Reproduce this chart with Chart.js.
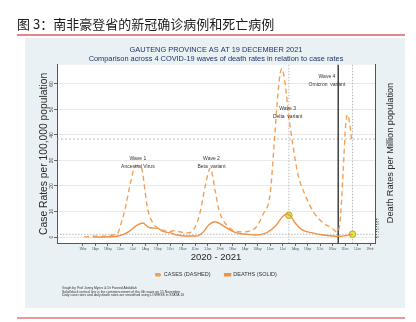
<!DOCTYPE html>
<html>
<head>
<meta charset="utf-8">
<script src="https://cdn.jsdelivr.net/npm/chart.js@4.4.1/dist/chart.umd.min.js"></script>
<style>
  html, body { margin: 0; padding: 0; background: #fff; }
  canvas { display: block; }
</style>
</head>
<body>
<canvas id="chart" width="416" height="322"></canvas>
<script>
// x values are months counted from 1 Mar 2020 (0) to 1 Feb 2022 (23)
const monthLabels = ['1Mar', '1Apr', '1May', '1Jun', '1Jul', '1Aug', '1Sep', '1Oct', '1Nov', '1Dec', '1Jan', '1Feb',
                     '1Mar', '1Apr', '1May', '1Jun', '1Jul', '1Aug', '1Sep', '1Oct', '1Nov', '1Dec', '1Jan', '1Feb'];
const caseTicks = [0, 10, 20, 30, 40, 50, 60];
const deathTicks = [0, 1, 2, 3, 4, 5, 6, 7];

// cases per 100,000 (dashed)
const caseMonths = [0.1, 0.5, 1.0, 1.5, 2.0, 2.5, 2.8, 3.1, 3.4, 3.8, 4.15, 4.45, 4.75, 5.0, 5.2, 5.6, 6.0, 6.4, 6.9, 7.4,
                    7.9, 8.3, 8.6, 9.0, 9.4, 9.8, 10.2, 10.6, 10.9, 11.5, 12.0, 12.8, 13.4, 13.9, 14.4, 15.0, 15.3, 15.55,
                    15.8, 15.95, 16.2, 16.45, 16.85, 17.25, 17.8, 18.45, 19.25, 19.95, 20.35, 20.6, 20.85, 21.05, 21.2,
                    21.35, 21.55];
const caseRates = [0, 0.2, 0.3, 0.3, 0.5, 0.9, 1.6, 6, 11.5, 21, 27.5, 28, 26, 17, 10.6, 5.5, 3.5, 2.7, 2.2, 2.5,
                   1.9, 1.6, 1.8, 4, 10, 20, 27, 18, 10.5, 4.7, 2.7, 2.0, 2.4, 4, 8.6, 17, 35, 52,
                   64, 66, 60, 49, 35, 24, 16.5, 10, 5.5, 3.5, 2, 6, 26, 44, 48,
                   45, 37];

// deaths per million (solid)
const deathMonths = [0.8, 1.5, 2.2, 2.8, 3.2, 3.7, 4.2, 4.8, 5.2, 5.6, 6.0, 6.4, 7.0, 7.5, 8.3, 9.1, 9.6, 10.1, 10.55,
                     11.15, 11.8, 12.3, 13.1, 13.9, 14.7, 15.5, 16.0, 16.35, 16.7, 17.0, 17.6, 18.4, 19.2, 20.0, 20.6,
                     21.1, 21.6];
const deathRates = [0, 0, 0.1, 0.4, 0.9, 2.2, 4.2, 5.5, 4.0, 3.5, 3.4, 2.2, 1.6, 0.8, 0.4, 0.4, 1.8, 4.8, 6,
                    4.7, 2.7, 1.6, 1.1, 0.8, 1.6, 4.7, 8, 9, 7.8, 5.5, 2.7, 1.6, 0.8, 0.4, 0.3,
                    0.6, 1.1];

// highlighted points
const markerMonths = [16.5, 21.6];
const markerRates = [8.5, 1.1];

const waveLabels = [
  { m: 4.4, v: 30.6, text: 'Wave 1' }, { m: 4.4, v: 27.4, text: 'Ancestral Virus' },
  { m: 10.3, v: 30.6, text: 'Wave 2' }, { m: 10.3, v: 27.4, text: 'Beta  variant' },
  { m: 16.4, v: 50.2, text: 'Wave 3' }, { m: 16.4, v: 47.0, text: 'Delta  variant' },
  { m: 19.55, v: 62.7, text: 'Wave 4' }, { m: 19.55, v: 59.6, text: 'Omicron  variant' }
];

const pageTitle = '图 3：南非豪登省的新冠确诊病例和死亡病例';
const notes = [
  'Graph by Prof Jonny Myers & Dr Fareed Abdullah',
  'Solid black vertical line is the commencement of the 4th wave on 15 November',
  'Daily case rates and daily death rates are smoothed using LOWESS in STATA 16'
];

const FONT = '"Liberation Sans", Arial, sans-serif';
const ORANGE = '#f3a056';

const zip = (xs, ys) => xs.map((x, i) => ({ x: x, y: ys[i] }));

const decor = {
  id: 'decor',
  beforeDraw(chart) {
    const { ctx, chartArea: a } = chart;
    ctx.save();
    ctx.fillStyle = '#fff';
    ctx.fillRect(0, 0, chart.width, chart.height);
    ctx.fillStyle = '#e9f1f4';
    ctx.fillRect(25, 38, 380, 270);
    ctx.fillStyle = '#fff';
    ctx.fillRect(a.left, a.top, a.right - a.left, a.bottom - a.top);

    ctx.fillStyle = '#1a1a1a';
    ctx.font = '13px "Noto Sans CJK SC"';
    ctx.textBaseline = 'middle';
    ctx.fillText(pageTitle, 17, 24);

    ctx.strokeStyle = '#d9625e';
    ctx.lineWidth = 1.5;
    ctx.beginPath();
    ctx.moveTo(17, 35); ctx.lineTo(405, 35);
    ctx.stroke();
    ctx.strokeStyle = '#e99a98';
    ctx.lineWidth = 2;
    ctx.beginPath();
    ctx.moveTo(17, 318); ctx.lineTo(405, 318);
    ctx.stroke();
    ctx.restore();
  },
  beforeDatasetsDraw(chart) {
    const { ctx, chartArea: a, scales: { x, y } } = chart;
    ctx.save();
    ctx.lineWidth = 0.8;
    ctx.strokeStyle = '#a8a8a8';
    const hline = (v, dash) => {
      ctx.setLineDash(dash);
      ctx.beginPath();
      ctx.moveTo(a.left, y.getPixelForValue(v));
      ctx.lineTo(a.right, y.getPixelForValue(v));
      ctx.stroke();
    };
    const vline = (m, dash) => {
      ctx.setLineDash(dash);
      ctx.beginPath();
      ctx.moveTo(x.getPixelForValue(m), a.top);
      ctx.lineTo(x.getPixelForValue(m), a.bottom);
      ctx.stroke();
    };
    hline(38.4, [2, 2]);
    hline(1.05, [1.5, 1.5]);
    vline(16.5, [1.5, 1.5]);
    vline(21.6, [1.5, 1.5]);
    ctx.strokeStyle = '#111';
    ctx.lineWidth = 1.2;
    vline(20.45, []);
    ctx.restore();
  },
  afterDatasetsDraw(chart) {
    const { ctx, scales: { x, y } } = chart;
    ctx.save();
    ctx.fillStyle = '#333';
    ctx.font = '5px ' + FONT;
    ctx.textAlign = 'center';
    ctx.textBaseline = 'middle';
    waveLabels.forEach(l => ctx.fillText(l.text, x.getPixelForValue(l.m), y.getPixelForValue(l.v)));
    ctx.restore();
  },
  afterDraw(chart) {
    const { ctx } = chart;
    ctx.save();
    ctx.fillStyle = '#2a2a2a';
    ctx.font = '9.2px ' + FONT;
    ctx.textAlign = 'center';
    ctx.textBaseline = 'middle';
    ctx.translate(390, 153);
    ctx.rotate(-Math.PI / 2);
    ctx.fillText('Death Rates per Million population', 0, 0);
    ctx.restore();

    ctx.save();
    ctx.fillStyle = '#333';
    ctx.font = '3.4px ' + FONT;
    ctx.textBaseline = 'middle';
    ctx.fillText(notes[0], 62, 288.3);
    ctx.fillText(notes[1], 62, 291.7);
    ctx.fillText(notes[2], 62, 295.3);
    ctx.restore();
  }
};

new Chart(document.getElementById('chart'), {
  type: 'line',
  data: {
    datasets: [
      {
        label: 'CASES (DASHED)',
        data: zip(caseMonths, caseRates),
        borderColor: ORANGE,
        backgroundColor: ORANGE,
        borderWidth: 1.4,
        borderDash: [5, 3.5],
        pointRadius: 0,
        cubicInterpolationMode: 'monotone',
        yAxisID: 'y'
      },
      {
        label: 'DEATHS (SOLID)',
        data: zip(deathMonths, deathRates),
        borderColor: '#f19145',
        backgroundColor: '#f19145',
        borderWidth: 1.4,
        pointRadius: 0,
        cubicInterpolationMode: 'monotone',
        yAxisID: 'y2'
      },
      {
        label: 'markers',
        data: zip(markerMonths, markerRates),
        showLine: false,
        pointRadius: 3.3,
        pointBackgroundColor: '#e4ea3c',
        pointBorderColor: '#9c9c2c',
        pointBorderWidth: 0.8,
        yAxisID: 'y2'
      }
    ]
  },
  options: {
    responsive: false,
    animation: false,
    layout: { padding: { left: 25, right: 9, top: 38, bottom: 34.5 } },
    plugins: {
      title: {
        display: true,
        text: 'GAUTENG PROVINCE AS AT 19 DECEMBER 2021',
        color: '#1f3464',
        font: { family: FONT, size: 7.4, weight: 'normal', lineHeight: 1.2 },
        padding: { top: 7.5, bottom: 0 }
      },
      subtitle: {
        display: true,
        text: 'Comparison across 4 COVID-19 waves of death rates in relation to case rates',
        color: '#1f3464',
        font: { family: FONT, size: 7.4, lineHeight: 1.2 },
        padding: { top: 0, bottom: 1.5 }
      },
      legend: {
        position: 'bottom',
        labels: {
          filter: item => item.datasetIndex < 2,
          boxWidth: 6,
          boxHeight: 2,
          padding: 14,
          color: '#333',
          font: { family: FONT, size: 5.5 }
        }
      },
      tooltip: { enabled: false }
    },
    scales: {
      x: {
        type: 'linear',
        min: -2.08,
        max: 23.4,
        afterBuildTicks: s => { s.ticks = monthLabels.map((_, i) => ({ value: i })); },
        afterFit: s => { s.height = 15; },
        ticks: {
          callback: v => monthLabels[v] ?? '',
          autoSkip: false,
          maxRotation: 0,
          padding: 1,
          color: '#555',
          font: { family: FONT, size: 3.2 }
        },
        grid: { drawOnChartArea: false, tickLength: 3, color: '#666' },
        border: { color: '#555' },
        title: {
          display: true,
          text: '2020 - 2021',
          color: '#222',
          font: { family: FONT, size: 9.5, lineHeight: 1.2 },
          padding: { top: 0, bottom: -4.7 }
        }
      },
      y: {
        position: 'left',
        min: -2.35,
        max: 67.5,
        afterBuildTicks: s => { s.ticks = caseTicks.map(v => ({ value: v })); },
        afterFit: s => { s.width = 32; },
        ticks: {
          minRotation: 90,
          maxRotation: 90,
          crossAlign: 'center',
          padding: 0,
          color: '#444',
          font: { family: FONT, size: 5 }
        },
        grid: { color: '#e9e9e9', tickColor: '#666', tickLength: 3 },
        border: { color: '#555' },
        title: {
          display: true,
          text: 'Case Rates per 100,000 population',
          color: '#2a2a2a',
          font: { family: FONT, size: 10.3, lineHeight: 1.2 },
          padding: { top: 12.8, bottom: 0 }
        }
      },
      y2: {
        position: 'right',
        min: -2.35,
        max: 67.5,
        afterBuildTicks: s => { s.ticks = deathTicks.map(v => ({ value: v })); },
        afterFit: s => { s.width = 32; },
        ticks: {
          minRotation: 90,
          maxRotation: 90,
          crossAlign: 'center',
          padding: 0.5,
          color: '#555',
          font: { family: FONT, size: 2.6 }
        },
        grid: { drawOnChartArea: false, tickColor: '#666', tickLength: 2 },
        border: { color: '#555' }
      }
    }
  },
  plugins: [decor]
});
</script>
</body>
</html>
